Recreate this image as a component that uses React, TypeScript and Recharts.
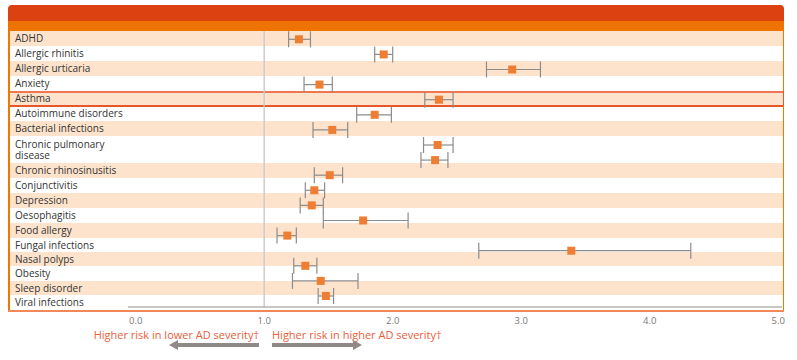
import React from "react";
import { ScatterChart, Scatter, XAxis, YAxis, ErrorBar, ReferenceLine } from "recharts";

const categories = [
  "ADHD",
  "Allergic rhinitis",
  "Allergic urticaria",
  "Anxiety",
  "Asthma",
  "Autoimmune disorders",
  "Bacterial infections",
  "Chronic pulmonary disease",
  "Chronic rhinosinusitis",
  "Conjunctivitis",
  "Depression",
  "Oesophagitis",
  "Food allergy",
  "Fungal infections",
  "Nasal polyps",
  "Obesity",
  "Sleep disorder",
  "Viral infections",
];

const oddsRatios = [1.27, 1.93, 2.93, 1.43, 2.36, 1.86, 1.53, 2.35, 2.33, 1.51, 1.39, 1.37, 1.77, 1.18, 3.39, 1.32, 1.44, 1.48];
const ciLower = [1.19, 1.86, 2.73, 1.31, 2.25, 1.72, 1.38, 2.24, 2.22, 1.39, 1.32, 1.28, 1.46, 1.1, 2.67, 1.23, 1.22, 1.42];
const ciUpper = [1.36, 2.0, 3.15, 1.53, 2.47, 1.99, 1.65, 2.47, 2.43, 1.61, 1.47, 1.46, 2.12, 1.25, 4.32, 1.41, 1.73, 1.54];
const xTicks = [0, 1, 2, 3, 4, 5];
const highlighted = "Asthma";
const leftCaption = "Higher risk in lower AD severity\u2020";
const rightCaption = "Higher risk in higher AD severity\u2020";

// table row layout (visual decoration)
const rowHeights = [15, 15, 15, 15, 15, 15, 15, 27, 15, 15, 15, 15, 15, 14, 14, 15, 14, 15];

const data = categories.map((name, i) => ({
  name,
  idx: i,
  or: oddsRatios[i],
  err: [oddsRatios[i] - ciLower[i], ciUpper[i] - oddsRatios[i]],
}));

const FONT = "'Open Sans', 'DejaVu Sans', sans-serif";
const HL = "#e8562c";

const Square = (props: any) => {
  const { cx, cy } = props;
  if (cx == null || cy == null) return null;
  return <rect x={cx - 4} y={cy - 4} width={8} height={8} fill="#ef7d32" />;
};

const abs = (left: number, top: number, width: number, height: number, background: string): React.CSSProperties => ({
  position: "absolute",
  left,
  top,
  width,
  height,
  background,
});

export default function App() {
  let top = 31;
  const rows = categories.map((name, i) => {
    const h = rowHeights[i];
    const r = { name, top, h, shaded: i % 2 === 0 };
    top += h;
    return r;
  });
  const tableBottom = top;
  const hl = rows.find((r) => r.name === highlighted)!;

  return (
    <div style={{ position: "relative", width: 797, height: 360, fontFamily: FONT, overflow: "hidden", background: "#fff" }}>
      <style>{`body{margin:0}`}</style>
      {/* header bars */}
      <div style={{ ...abs(8, 5, 776, 16, "#dc4211"), borderRadius: "4px 4px 0 0" }} />
      <div style={abs(8, 21, 776, 10, "#ef7300")} />
      {/* rows */}
      {rows.map((r) => (
        <div key={r.name} style={abs(9, r.top, 774, r.h, r.shaded ? "#fde3cc" : "#ffffff")} />
      ))}
      {/* row labels */}
      {rows.map((r) => (
        <div
          key={"l" + r.name}
          style={{
            position: "absolute",
            left: 15,
            top: r.top,
            height: r.h,
            width: 110,
            display: "flex",
            alignItems: "center",
            fontSize: 10,
            lineHeight: "11px",
            color: "#333",
            whiteSpace: r.h > 20 ? "normal" : "nowrap",
          }}
        >
          {r.name}
        </div>
      ))}
      {/* highlighted row border */}
      <div style={abs(8, hl.top, 776, 1.5, "#ee7650")} />
      <div style={abs(8, hl.top + hl.h - 1, 776, 1.5, HL)} />
      <div style={abs(8, hl.top, 1.5, hl.h, HL)} />
      <div style={abs(782.5, hl.top, 1.5, hl.h, HL)} />
      {/* frame */}
      <div style={abs(8, 31, 1.5, tableBottom - 31 + 1, "#f07800")} />
      <div style={abs(782.5, 21, 1.5, hl.top - 21, "#f07800")} />
      <div style={abs(782.5, hl.top + hl.h, 1.5, tableBottom - hl.top - hl.h + 1, "#f07800")} />
      <div style={abs(8, tableBottom, 776, 1.5, "#f2875a")} />

      <div style={{ position: "absolute", left: 0, top: 0 }}>
        <ScatterChart width={797} height={360} margin={{ top: 31, right: 15, bottom: 23, left: 128 }}>
          <XAxis
            type="number"
            dataKey="or"
            domain={[-0.06, 5.03]}
            ticks={xTicks}
            tickFormatter={(v: number) => v.toFixed(1)}
            axisLine={{ stroke: "#b5b5b5", strokeWidth: 1.5 }}
            tickLine={false}
            tickMargin={4}
            height={30}
            tick={{ fill: "#7a7a7a", fontSize: 9.5, fontFamily: FONT }}
            allowDataOverflow
          />
          <YAxis type="number" dataKey="idx" domain={[-0.55, 17.73]} reversed hide allowDataOverflow />
          <ReferenceLine x={1} stroke="#cdcdcd" strokeWidth={1.5} />
          <Scatter data={data} isAnimationActive={false} shape={Square}>
            <ErrorBar dataKey="err" direction="x" width={8} stroke="#8c8c8c" strokeWidth={1.2} />
          </Scatter>
        </ScatterChart>
      </div>

      {/* bottom captions and arrows */}
      <svg width={797} height={360} style={{ position: "absolute", left: 0, top: 0, pointerEvents: "none" }}>
        <text x={259} y={339} textAnchor="end" fontSize={11} fill="#e8603a" fontFamily={FONT}>
          {leftCaption}
        </text>
        <text x={272} y={339} textAnchor="start" fontSize={11} fill="#e8603a" fontFamily={FONT}>
          {rightCaption}
        </text>
        <line x1={259} y1={345} x2={177} y2={345} stroke="#8f8a87" strokeWidth={4} />
        <polygon points="169,345 178,340 178,350" fill="#8f8a87" />
        <line x1={272} y1={345} x2={354} y2={345} stroke="#8f8a87" strokeWidth={4} />
        <polygon points="362,345 353,340 353,350" fill="#8f8a87" />
      </svg>
    </div>
  );
}
